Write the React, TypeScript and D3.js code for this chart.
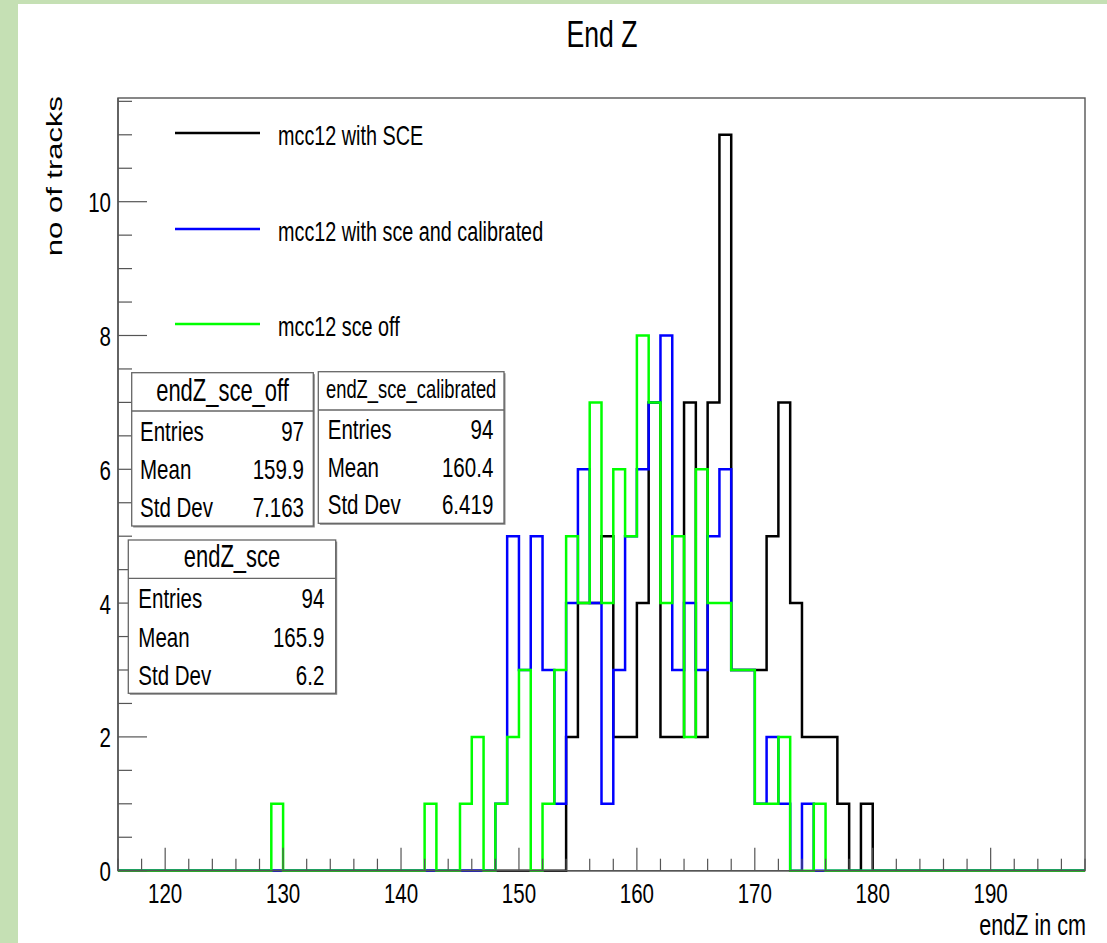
import React from "react";
import * as d3 from "d3";

// ---- data (bin counts, 1 cm bins, first bin starts at 128) ----
const firstBin = 128;
const xDomain = [116, 198];
const yDomain = [0, 11.55];

const sceCounts = [
  0, 0, 0, 0, 0, 0, 0, 0, 0, 0, 0, 0, // 128-139
  0, 0, 0, 0, 0, 0, 0, 0, 0, 0, // 140-149
  0, 0, 0, 0, 2, 4, 4, 5, 2, 2, // 150-159
  4, 7, 2, 2, 7, 2, 7, 11, 3, 3, // 160-169
  3, 5, 7, 4, 2, 2, 2, 1, 0, 1, // 170-179
  0,
];
const sceCalibratedCounts = [
  0, 0, 0, 0, 0, 0, 0, 0, 0, 0, 0, 0,
  0, 0, 0, 0, 0, 0, 0, 0, 1, 5,
  3, 5, 3, 1, 4, 6, 4, 1, 3, 5,
  6, 7, 8, 3, 4, 3, 5, 6, 3, 3,
  1, 2, 1, 0, 1, 0, 0, 0, 0, 0,
  0,
];
const sceOffCounts = [
  0, 1, 0, 0, 0, 0, 0, 0, 0, 0, 0, 0,
  0, 0, 1, 0, 0, 1, 2, 0, 1, 2,
  3, 0, 1, 3, 5, 4, 7, 4, 6, 5,
  8, 7, 4, 5, 2, 6, 4, 4, 3, 3,
  1, 1, 2, 0, 0, 1, 0, 0, 0, 0,
  0,
];

const xMajorTicks = [120, 130, 140, 150, 160, 170, 180, 190];
const yMajorTicks = [0, 2, 4, 6, 8, 10];

const legendLabels = ["mcc12 with SCE", "mcc12 with sce and calibrated", "mcc12 sce off"];
const seriesColors = ["#000000", "#0000ff", "#00ff00"];

const statsNames = ["endZ_sce_off", "endZ_sce_calibrated", "endZ_sce"];
const statsEntries = ["97", "94", "94"];
const statsMeans = ["159.9", "160.4", "165.9"];
const statsStd = ["7.163", "6.419", "6.2"];

// ---- layout ----
const W = 1107;
const H = 943;
const L = 118;
const R = 1085;
const T0 = 98;
const B = 870.7;
const SX = 0.72;
const FONT = "'Liberation Sans', Arial, Helvetica, sans-serif";
const AXC = "#555";

const x = d3.scaleLinear().domain(xDomain).range([L, R]);
const y = d3.scaleLinear().domain(yDomain).range([B, T0]);

function Txt({ x, y, size, anchor = "start", rot = false, children }: any) {
  const tr = rot
    ? `translate(${x},${y}) scale(${SX},1) rotate(-90)`
    : `translate(${x},${y}) scale(${SX},1)`;
  return (
    <text transform={tr} fontSize={size} textAnchor={anchor} fontFamily={FONT} fill="#000">
      {children}
    </text>
  );
}

function histPath(counts: number[]) {
  const pts: [number, number][] = [];
  pts.push([xDomain[0], 0]);
  counts.forEach((c, i) => {
    const b = firstBin + i;
    pts.push([b, c]);
    pts.push([b + 1, c]);
  });
  pts.push([xDomain[1], 0]);
  const line = d3
    .line<[number, number]>()
    .x((d) => x(d[0]))
    .y((d) => y(d[1]));
  return line(pts) || "";
}

function StatsBox({ bx, by, bw, bh, sep, name, titleSize, titleBase, rows, entries, mean, std, tx, vx }: any) {
  return (
    <g>
      <rect x={bx + 1.5} y={by + 1.5} width={bw} height={bh} fill="#888" />
      <rect x={bx} y={by} width={bw} height={bh} fill="#fff" stroke="#666" strokeWidth={1.3} />
      <line x1={bx} x2={bx + bw} y1={sep} y2={sep} stroke="#666" strokeWidth={1.3} />
      <Txt x={bx + bw / 2} y={titleBase} size={titleSize} anchor="middle">{name}</Txt>
      <Txt x={tx} y={rows[0]} size={28.5}>Entries</Txt>
      <Txt x={vx} y={rows[0]} size={28.5} anchor="end">{entries}</Txt>
      <Txt x={tx} y={rows[1]} size={28.5}>Mean</Txt>
      <Txt x={vx} y={rows[1]} size={28.5} anchor="end">{mean}</Txt>
      <Txt x={tx} y={rows[2]} size={28.5}>Std Dev</Txt>
      <Txt x={vx} y={rows[2]} size={28.5} anchor="end">{std}</Txt>
    </g>
  );
}

export default function App() {
  const xMinor = d3.range(xDomain[0], xDomain[1] + 0.001, 2).filter((v) => v % 10 !== 0);
  const yMinor = d3.range(0, 11.55, 0.5).filter((v) => v % 2 !== 0);
  const series = [sceCounts, sceCalibratedCounts, sceOffCounts];
  const legendY = [133, 229, 324];

  return (
    <div style={{ position: "absolute", left: 0, top: 0 }}>
      <svg width={W} height={H} style={{ display: "block", background: "#fff" }}>
        <rect x={0} y={0} width={W} height={H} fill="#fff" />
        <rect x={0} y={0} width={18} height={H} fill="#c5e0b4" />
        <rect x={0} y={0} width={W} height={4} fill="#c5e0b4" />

        {/* title */}
        <Txt x={602} y={47} size={37} anchor="middle">End Z</Txt>

        {/* frame */}
        <rect x={L} y={T0} width={R - L} height={B - T0} fill="none" stroke={AXC} strokeWidth={1.4} />

        {/* histograms */}
        {series.map((s, i) => (
          <path key={i} d={histPath(s)} fill="none" stroke={seriesColors[i]} strokeWidth={2.5} strokeLinejoin="miter" />
        ))}

        {/* x axis */}
        <line x1={L} x2={R} y1={B} y2={B} stroke={AXC} strokeWidth={1.4} />
        {xMajorTicks.map((t) => (
          <g key={t}>
            <line x1={x(t)} x2={x(t)} y1={B} y2={B - 23} stroke={AXC} strokeWidth={1.2} />
            <Txt x={x(t)} y={903} size={28.5} anchor="middle">{t}</Txt>
          </g>
        ))}
        {xMinor.map((t) => (
          <line key={t} x1={x(t)} x2={x(t)} y1={B} y2={B - 12} stroke={AXC} strokeWidth={1.2} />
        ))}
        <Txt x={1086} y={935} size={30} anchor="end">endZ in cm</Txt>

        {/* y axis */}
        <line x1={L} x2={L} y1={T0} y2={B} stroke={AXC} strokeWidth={1.4} />
        {yMajorTicks.map((t) => (
          <g key={t}>
            <line x1={L} x2={L + 29} y1={y(t)} y2={y(t)} stroke={AXC} strokeWidth={1.2} />
            <Txt x={111} y={y(t) + 10.5} size={28.5} anchor="end">{t}</Txt>
          </g>
        ))}
        {yMinor.map((t) => (
          <line key={t} x1={L} x2={L + 14} y1={y(t)} y2={y(t)} stroke={AXC} strokeWidth={1.2} />
        ))}
        <Txt x={62} y={96} size={31} anchor="end" rot>no of tracks</Txt>

        {/* legend */}
        {legendLabels.map((lab, i) => (
          <g key={lab}>
            <line x1={175} x2={260} y1={legendY[i]} y2={legendY[i]} stroke={seriesColors[i]} strokeWidth={2.6} />
            <Txt x={278} y={legendY[i] + 12} size={27.5}>{lab}</Txt>
          </g>
        ))}

        {/* stats boxes */}
        <StatsBox bx={131.7} by={372.7} bw={181.6} bh={153.3} sep={411} name={statsNames[0]} titleSize={30.5} titleBase={401}
          rows={[440.5, 479, 516.7]} entries={statsEntries[0]} mean={statsMeans[0]} std={statsStd[0]} tx={140} vx={304} />
        <StatsBox bx={318.3} by={371.7} bw={185.7} bh={151.6} sep={410} name={statsNames[1]} titleSize={25.5} titleBase={397.5}
          rows={[439, 476.7, 514]} entries={statsEntries[1]} mean={statsMeans[1]} std={statsStd[1]} tx={327.7} vx={493.3} />
        <StatsBox bx={128.3} by={540} bw={207.4} bh={153.3} sep={578.3} name={statsNames[2]} titleSize={30.5} titleBase={567}
          rows={[608.3, 646.7, 685]} entries={statsEntries[2]} mean={statsMeans[2]} std={statsStd[2]} tx={138.3} vx={324.3} />
      </svg>
    </div>
  );
}
